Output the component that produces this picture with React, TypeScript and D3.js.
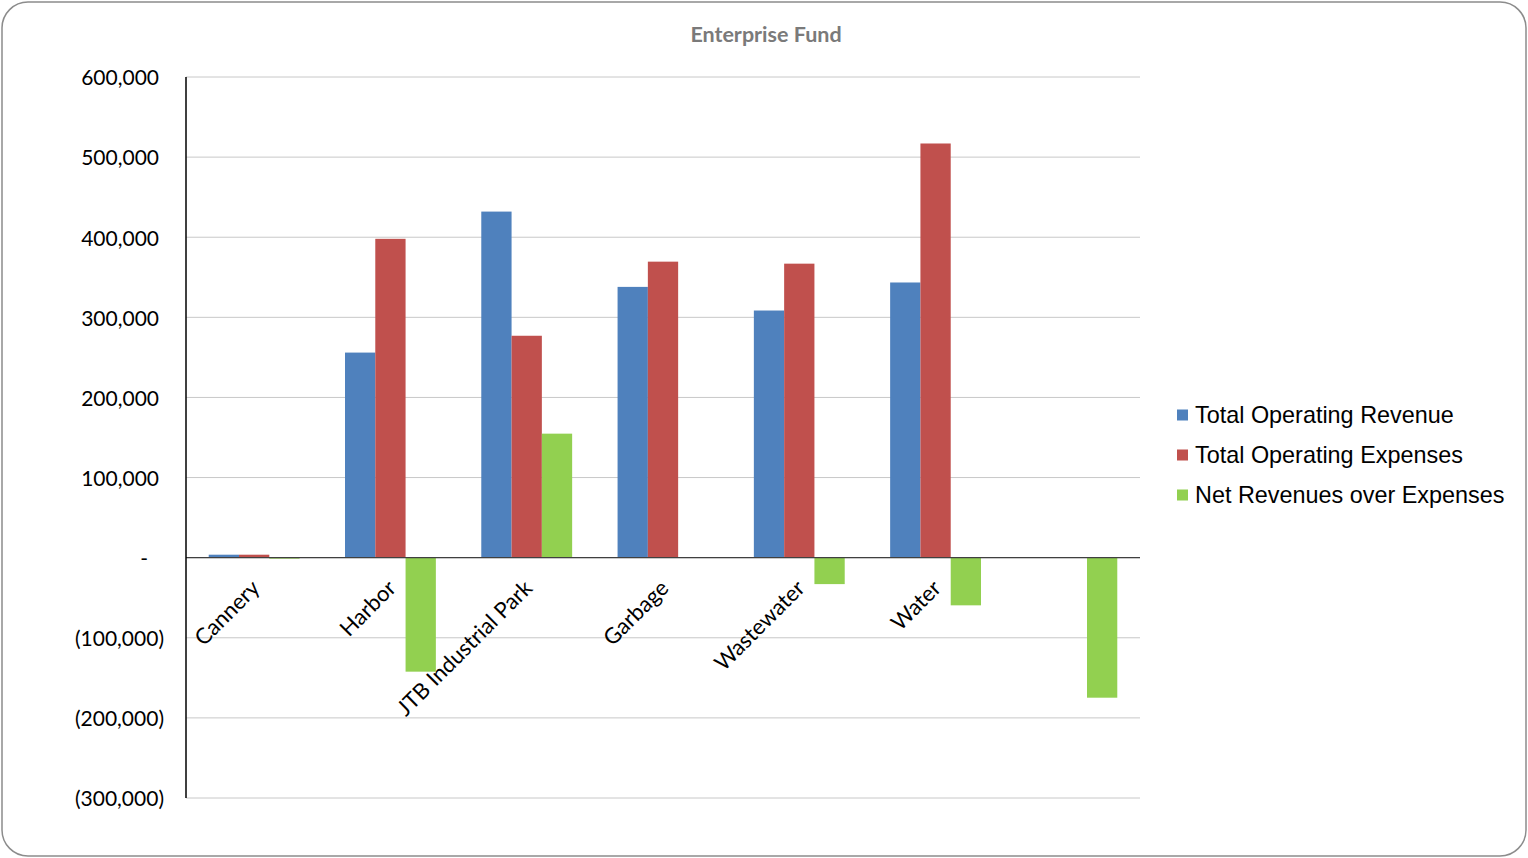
import React from "react";
import * as d3 from "d3";

const categories = ["Cannery", "Harbor", "JTB Industrial Park", "Garbage", "Wastewater", "Water", ""];
const seriesNames = ["Total Operating Revenue", "Total Operating Expenses", "Net Revenues over Expenses"];
const revenue: (number | null)[] = [3700, 256000, 432000, 338000, 308500, 343500, null];
const expenses: (number | null)[] = [3700, 398000, 277000, 369500, 367000, 517000, null];
const netRevenue: (number | null)[] = [-800, -142300, 154800, null, -33000, -59500, -174800];
const colors = ["#4F81BD", "#C0504D", "#92D050"];
const yTicks = [600000, 500000, 400000, 300000, 200000, 100000, 0, -100000, -200000, -300000];

const W = 1528;
const H = 858;
const plot = { left: 186, right: 1140, top: 77, bottom: 798 };

const fmt = d3.format(",");
function tickLabel(v: number) {
  if (v === 0) return "-";
  if (v < 0) return "(" + fmt(-v) + ")";
  return fmt(v);
}

export default function App() {
  const series = [revenue, expenses, netRevenue];
  const y = d3.scaleLinear().domain([-300000, 600000]).range([plot.bottom, plot.top]);
  const x0 = d3.scaleBand<string>().domain(categories.map((c, i) => String(i))).range([plot.left, plot.right]).padding(0);
  const x1 = d3
    .scaleBand<string>()
    .domain(seriesNames)
    .range([0, x0.bandwidth()])
    .paddingInner(0)
    .paddingOuter(0.75);
  const calibri = "Lato, 'Open Sans', sans-serif";
  return (
    <svg width={W} height={H} style={{ position: "absolute", left: 0, top: 0, background: "#fff" }}>
      <rect x={2} y={2} width={W - 4} height={H - 4} rx={26} ry={26} fill="#fff" stroke="#8c8c8c" strokeWidth={1.5} />
      <text x={766} y={42} textAnchor="middle" fontFamily={calibri} fontWeight="bold" fontSize={21.5} fill="#7a7a7a">
        Enterprise Fund
      </text>
      {yTicks.map((t) => (
        <line key={"g" + t} x1={plot.left} x2={plot.right} y1={y(t)} y2={y(t)} stroke="#c8c8c8" strokeWidth={1} />
      ))}
      {yTicks.map((t) => (
        <text
          key={"t" + t}
          x={t === 0 ? 148 : t < 0 ? 164 : 159}
          y={y(t) + 1}
          dy="0.35em"
          textAnchor="end"
          fontFamily={calibri}
          fontSize={21}
          fill="#000"
        >
          {tickLabel(t)}
        </text>
      ))}
      {series.map((vals, si) =>
        vals.map((v, ci) => {
          if (v === null) return null;
          const bx = (x0(String(ci)) as number) + (x1(seriesNames[si]) as number);
          const y0 = y(0);
          const yv = y(v);
          return (
            <rect
              key={si + "-" + ci}
              x={bx}
              y={Math.min(y0, yv)}
              width={x1.bandwidth()}
              height={Math.max(1, Math.abs(yv - y0))}
              fill={colors[si]}
            />
          );
        })
      )}
      <line x1={plot.left} x2={plot.right} y1={y(0)} y2={y(0)} stroke="#404040" strokeWidth={1.2} />
      <line x1={plot.left} x2={plot.left} y1={plot.top} y2={plot.bottom} stroke="#000" strokeWidth={1.5} />
      {categories.map((c, i) => {
        const cx = (x0(String(i)) as number) + x0.bandwidth() / 2;
        return (
          <text
            key={"c" + i}
            transform={`translate(${cx - 4},${y(0) + 21}) rotate(-45)`}
            textAnchor="end"
            dy="0.7em"
            fontFamily={calibri}
            fontSize={22}
            fill="#000"
          >
            {c}
          </text>
        );
      })}
      {seriesNames.map((s, i) => (
        <g key={"l" + i} transform={`translate(1177,${415 + i * 40})`}>
          <rect x={0} y={-5.5} width={11} height={11} fill={colors[i]} />
          <text x={18} y={0} dy="0.36em" fontFamily="'Liberation Sans', Arial, sans-serif" fontSize={23.4} fill="#000">
            {s}
          </text>
        </g>
      ))}
    </svg>
  );
}
